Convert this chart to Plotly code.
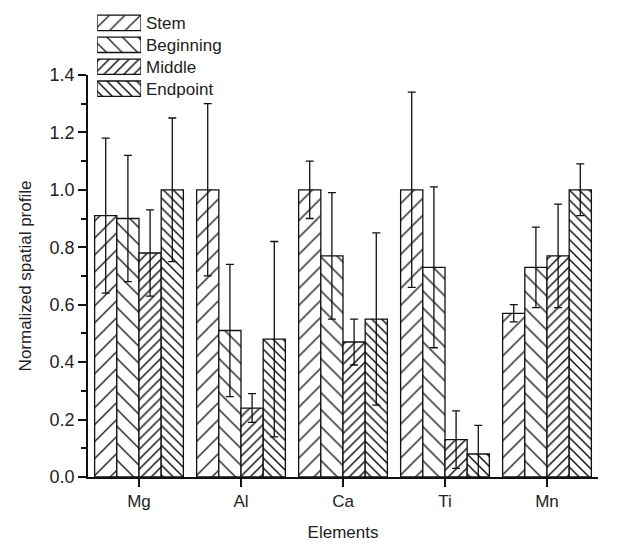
import plotly.graph_objects as go

elements = ["Mg", "Al", "Ca", "Ti", "Mn"]
series_names = ["Stem", "Beginning", "Middle", "Endpoint"]
stem = [0.91, 1.00, 1.00, 1.00, 0.57]
stem_err = [0.27, 0.30, 0.10, 0.34, 0.03]
beginning = [0.90, 0.51, 0.77, 0.73, 0.73]
beginning_err = [0.22, 0.23, 0.22, 0.28, 0.14]
middle = [0.78, 0.24, 0.47, 0.13, 0.77]
middle_err = [0.15, 0.05, 0.08, 0.10, 0.18]
endpoint = [1.00, 0.48, 0.55, 0.08, 1.00]
endpoint_err = [0.25, 0.34, 0.30, 0.10, 0.09]

values = [stem, beginning, middle, endpoint]
errors = [stem_err, beginning_err, middle_err, endpoint_err]
pattern_shapes = ["/", "\\", "/", "\\"]
pattern_sizes = [12, 12, 7, 7]
pattern_solid = [0.11, 0.11, 0.21, 0.21]

INK = "#111"
fig = go.Figure()
for name, vals, errs, shp, sz, so in zip(series_names, values, errors,
                                          pattern_shapes, pattern_sizes, pattern_solid):
    fig.add_trace(go.Bar(
        x=elements, y=vals, name=name, showlegend=False,
        marker=dict(
            color="white",
            line=dict(color=INK, width=1.3),
            pattern=dict(shape=shp, size=sz, solidity=so,
                         fgcolor=INK, bgcolor="white", fillmode="replace"),
        ),
        error_y=dict(type="data", array=errs, visible=True,
                     color=INK, thickness=1.3, width=4),
    ))

# legend swatches drawn as a small horizontal bar chart on its own axes
fig.add_trace(go.Bar(
    y=series_names, x=[1] * len(series_names), orientation="h",
    xaxis="x2", yaxis="y2", showlegend=False, hoverinfo="skip", width=0.7,
    marker=dict(
        color="white",
        line=dict(color=INK, width=1.3),
        pattern=dict(shape=pattern_shapes, size=[11, 11, 7, 7],
                     solidity=pattern_solid, fgcolor=INK, bgcolor="white",
                     fillmode="replace"),
    ),
))

font_family = "Liberation Sans, Arial, sans-serif"
fig.update_layout(
    width=636, height=543,
    margin=dict(l=88, r=38, t=10, b=66),
    paper_bgcolor="white", plot_bgcolor="white",
    barmode="group", bargap=0.13, bargroupgap=0,
    font=dict(family=font_family, color="#222", size=17),
    showlegend=False,
    xaxis=dict(
        title=dict(text="Elements", font=dict(size=17), standoff=16),
        showline=True, linecolor=INK, linewidth=1.5,
        ticks="outside", ticklen=8, tickwidth=1.5, tickcolor=INK,
        tickfont=dict(size=17), range=[-0.5, 4.5],
        showgrid=False, zeroline=False, automargin=False,
    ),
    yaxis=dict(
        domain=[0, 0.861],
        title=dict(text="Normalized spatial profile", font=dict(size=17), standoff=14),
        range=[0, 1.4], dtick=0.2, tickformat=".1f",
        showline=True, linecolor=INK, linewidth=1.5,
        ticks="outside", ticklen=8, tickwidth=1.5, tickcolor=INK,
        minor=dict(dtick=0.1, ticks="outside", ticklen=5, tickwidth=1.5, tickcolor=INK),
        tickfont=dict(size=18),
        showgrid=False, zeroline=False, automargin=False,
    ),
    xaxis2=dict(
        domain=[0.018, 0.104], range=[0, 1], anchor="y2",
        visible=False, fixedrange=True, automargin=False,
    ),
    yaxis2=dict(
        domain=[0.808, 0.996], anchor="x2", side="right",
        autorange="reversed", showline=False, showgrid=False, zeroline=False,
        ticks="", ticklabelstandoff=4, tickfont=dict(size=17, color="#222"),
        fixedrange=True, automargin=False,
    ),
)

fig.write_html("out.html")
